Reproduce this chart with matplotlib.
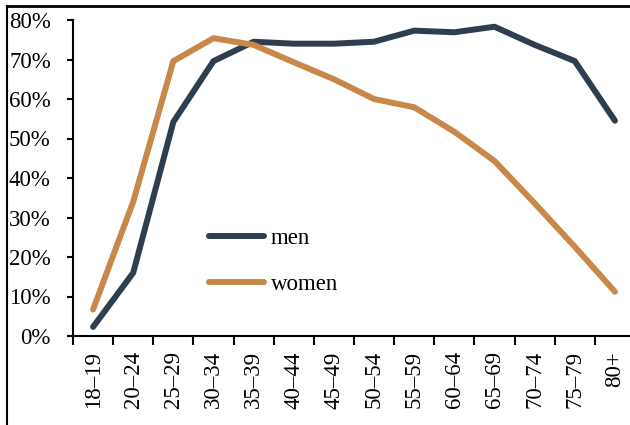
import matplotlib
matplotlib.use("Agg")
import matplotlib.pyplot as plt
from matplotlib.lines import Line2D

categories = ["18–19", "20–24", "25–29", "30–34", "35–39", "40–44", "45–49",
              "50–54", "55–59", "60–64", "65–69", "70–74", "75–79", "80+"]
men = [2.3, 16.0, 54.2, 69.6, 74.5, 74.0, 74.0, 74.5, 77.3, 76.9, 78.3, 73.7, 69.6, 54.5]
women = [6.7, 34.0, 69.6, 75.4, 73.7, 69.3, 65.0, 60.0, 57.9, 51.7, 44.3, 33.6, 22.6, 11.2]
yticks = [0, 10, 20, 30, 40, 50, 60, 70, 80]

plt.rcParams['font.family'] = ['Liberation Serif', 'DejaVu Serif']

W, H = 630, 425
fig = plt.figure(figsize=(W / 100, H / 100), dpi=100)
# axes: left spine at x=73, right boundary at ~635 (cropped), bottom y=336, top y=20
ax = fig.add_axes([73 / W, (H - 336) / H, (635 - 73) / W, (336 - 20) / H])

men_c = "#2F3E4E"
women_c = "#C8884A"
x = list(range(len(categories)))
ax.plot(x, men, color=men_c, lw=4.3, solid_capstyle='round', solid_joinstyle='round', label="men", clip_on=False)
ax.plot(x, women, color=women_c, lw=4.3, solid_capstyle='round', solid_joinstyle='round', label="women", clip_on=False)

ax.set_xlim(-0.5, len(categories) - 0.5)
ax.set_ylim(0, 80)
ax.set_yticks(yticks)
ax.set_yticklabels([f"{v}%" for v in yticks], fontsize=16.5)
ax.set_xticks([i + 0.5 for i in range(-1, len(categories) - 1)] + [len(categories) - 0.5])
ax.set_xticklabels([])
ax.set_xticks(x, minor=True)
ax.set_xticklabels(categories, minor=True, rotation=90, fontsize=16.5)
ax.tick_params(axis='x', which='major', direction='out', length=6.5, width=1.5, color='black')
ax.tick_params(axis='x', which='minor', length=0, pad=11)
ax.tick_params(axis='y', direction='out', length=4, width=1.5, pad=12)

for s in ['top', 'right']:
    ax.spines[s].set_visible(False)
for s in ['left', 'bottom']:
    ax.spines[s].set_linewidth(1.5)

leg = ax.legend(loc='upper left', bbox_to_anchor=(209 / W, (H - 228) / H),
                bbox_transform=fig.transFigure, frameon=False, fontsize=16.5,
                handlelength=2.4, handletextpad=0.3, labelspacing=1.1,
                borderpad=0, borderaxespad=0)

# outer border lines (top and left)
fig.add_artist(Line2D([7 / W, 1.0], [(H - 5.5) / H, (H - 5.5) / H], color='black', lw=2, transform=fig.transFigure))
fig.add_artist(Line2D([7 / W, 7 / W], [0, (H - 5.5) / H], color='black', lw=1.5, transform=fig.transFigure))

fig.savefig("out.png", dpi=100)
